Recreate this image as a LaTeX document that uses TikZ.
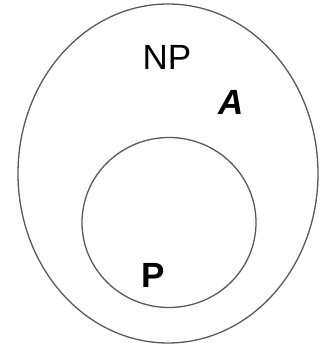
\documentclass[tikz,border=0pt]{standalone}
\usepackage{fontspec}
\setmainfont{Liberation Sans}
\definecolor{ringgray}{HTML}{595959}
\begin{document}
\begin{tikzpicture}[x=1pt,y=-1pt,
  ring/.style={draw=ringgray,line width=1.3pt},
  lbl/.style={inner sep=0pt,anchor=center,font=\fontsize{35}{35}\selectfont}]
\useasboundingbox (0,0) rectangle (323,347);
\draw[ring] (168,173.5) ellipse [x radius=150, y radius=169.5];
\draw[ring] (169,222.5) ellipse [x radius=87, y radius=85];
\node[lbl] (np) at (167,57.5) {\vphantom{N}NP};
\node[lbl,font=\fontsize{35}{35}\selectfont\bfseries\itshape] (a) at (231,102) {A};
\node[lbl,font=\fontsize{35}{35}\selectfont\bfseries] (p) at (153,275) {P};
\end{tikzpicture}
\end{document}
